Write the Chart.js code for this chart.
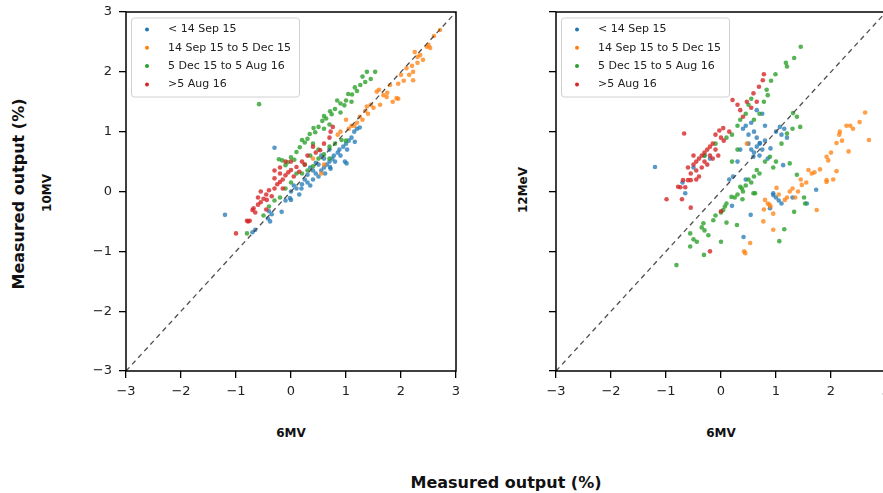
<!DOCTYPE html>
<html>
<head>
<meta charset="utf-8">
<script src="https://cdn.jsdelivr.net/npm/chart.js@4.4.1/dist/chart.umd.min.js"></script>
<style>
  html, body { margin: 0; padding: 0; background: #fff; width: 883px; height: 493px; overflow: hidden; }
  .wrap { position: absolute; top: 0; }
  .lbl { position: absolute; font-family: "DejaVu Sans"; font-weight: bold; color: #111; white-space: nowrap; }
  .rot { transform: translate(-50%, -50%) rotate(-90deg); }
  .hor { transform: translate(-50%, -50%); }
</style>
</head>
<body>
<div class="wrap" style="left:80px"><canvas id="left" width="380" height="400"></canvas></div>
<div class="wrap" style="left:546px"><canvas id="right" width="344" height="400"></canvas></div>

<div class="lbl rot" style="left:18px;top:194px;font-size:16px">Measured output (%)</div>
<div class="lbl rot" style="left:47px;top:193px;font-size:12px">10MV</div>
<div class="lbl rot" style="left:523px;top:190px;font-size:12px">12MeV</div>
<div class="lbl hor" style="left:291px;top:433px;font-size:12px">6MV</div>
<div class="lbl hor" style="left:721px;top:433px;font-size:12px">6MV</div>
<div class="lbl hor" style="left:506px;top:482px;font-size:16px">Measured output (%)</div>

<script>
const groups = ["< 14 Sep 15", "14 Sep 15 to 5 Dec 15", "5 Dec 15 to 5 Aug 16", ">5 Aug 16"];
const groupColors = ["#1f77b4", "#ff7f0e", "#2ca02c", "#d62728"];
const pointColors = ["rgba(31,119,180,0.75)", "rgba(255,127,14,0.75)", "rgba(44,160,44,0.8)", "rgba(214,39,40,0.8)"];
const tickValues = [-3, -2, -1, 0, 1, 2, 3];
const diagonal = [[-3, -3], [3, 3]];

// 6MV (x) vs 10MV (y)
const mv10Before = [[-0.7,-0.68],[-0.65,-0.64],[-1.2,-0.39],[-0.42,-0.45],[-0.38,-0.5],[-0.35,-0.38],[-0.4,-0.33],
  [-0.17,-0.34],[-0.3,0.73],[-0.02,-0.11],[0.0,-0.14],[0.05,0.1],[0.15,-0.05],[0.19,0.05],[0.35,0.1],[0.3,0.15],
  [0.4,0.2],[0.45,0.3],[0.5,0.25],[0.55,0.35],[0.6,0.4],[0.62,0.3],[0.65,0.45],[0.7,0.5],[0.72,0.38],[0.75,0.55],
  [0.78,0.6],[0.8,0.5],[0.85,0.65],[0.88,0.7],[0.9,0.6],[0.95,0.75],[1.0,0.8],[1.02,0.7],[1.05,0.85],[1.1,0.9],
  [1.15,1.0],[1.2,1.05],[1.25,1.07],[0.6,0.55],[0.5,0.45],[0.4,0.35],[0.3,0.28],[0.2,0.12],[1.01,0.47],[0.98,0.5],
  [1.16,0.83],[0.7,0.7],[0.55,0.6],[0.35,0.4],[0.1,0.05],[0.0,0.0],[-0.1,-0.15],[0.25,0.2],[0.45,0.48],[0.71,0.41]];
const mv10Mid = [[2.71,2.7],[2.6,2.6],[2.53,2.4],[2.47,2.42],[2.35,2.28],[2.4,2.2],[2.3,2.15],[2.2,2.1],[2.1,2.06],
  [2.22,2.0],[2.22,1.86],[2.15,1.95],[2.05,1.85],[1.95,1.8],[1.92,1.56],[1.8,1.78],[1.75,1.65],[1.68,1.61],[1.95,1.55],
  [1.62,1.45],[1.85,1.5],[1.56,1.67],[1.74,1.58],[1.5,1.4],[1.45,1.45],[1.38,1.42],[1.4,1.3],[1.35,1.35],[1.3,1.2],
  [1.25,1.25],[1.2,1.15],[1.6,1.7],[2.0,1.95],[2.5,2.45],[1.15,1.1],[1.05,1.05],[1.0,1.2],[0.9,1.0],[0.85,0.95],
  [0.6,0.45],[0.55,0.3],[0.4,0.55],[1.1,1.1],[2.3,2.25],[2.25,2.33]];
const mv10Late = [[1.38,2.0],[1.53,2.0],[1.45,1.88],[1.35,1.83],[1.3,1.92],[1.26,1.78],[1.2,1.68],[1.16,1.74],[1.11,1.62],
  [1.04,1.63],[1.0,1.52],[0.97,1.44],[0.9,1.47],[0.84,1.52],[0.8,1.38],[0.74,1.29],[0.71,1.34],[0.64,1.22],[0.6,1.26],
  [0.57,1.18],[0.5,1.08],[0.44,0.99],[0.41,1.06],[0.34,0.96],[0.3,0.88],[0.25,0.82],[0.2,0.86],[0.16,0.74],[0.1,0.66],
  [0.06,0.53],[0.0,0.57],[-0.06,0.49],[-0.1,0.44],[-0.16,0.52],[-0.22,0.54],[-0.58,1.46],[0.9,1.32],[1.1,1.5],[0.6,1.05],
  [0.7,1.12],[0.4,0.8],[0.3,0.35],[0.4,0.42],[0.5,0.55],[0.6,0.62],[0.7,0.75],[0.8,0.8],[0.92,0.86],[0.5,0.7],[0.35,0.6],
  [0.25,0.45],[0.1,0.3],[0.0,0.15],[-0.1,0.05],[-0.2,-0.1],[-0.3,-0.15],[-0.4,-0.25],[-0.8,-0.7],[-0.5,-0.4],
  [0.2,0.3],[1.0,0.85],[0.7,0.55]];
const mv10After = [[-1.0,-0.7],[-0.8,-0.49],[-0.75,-0.49],[-0.78,-0.5],[-0.7,-0.31],[-0.65,-0.35],[-0.68,-0.28],
  [-0.6,-0.22],[-0.55,-0.18],[-0.5,-0.12],[-0.44,-0.14],[-0.45,-0.05],[-0.4,0.02],[-0.35,-0.08],[-0.3,0.05],[-0.25,0.12],
  [-0.2,0.16],[-0.15,0.2],[-0.1,0.27],[-0.05,0.32],[0.0,0.36],[0.05,0.25],[0.1,0.41],[0.15,0.33],[-0.2,0.3],[-0.3,0.22],
  [-0.15,0.05],[0.2,0.5],[0.3,0.6],[0.53,0.69],[0.45,0.65],[0.6,0.8],[0.72,1.0],[0.76,1.08],[0.7,0.9],[0.4,0.75],
  [-0.55,0.0],[-0.6,-0.1],[-0.45,-0.3],[-0.3,0.35],[-0.1,0.5],[0.0,0.5],[0.25,0.45],[-0.2,0.4]];

// 6MV (x) vs 12MeV (y)
const mev12Before = [[-1.2,0.41],[-0.65,-0.03],[-0.7,0.15],[-0.5,0.4],[-0.3,0.6],[-0.2,0.55],[0.2,-0.24],[0.41,-0.76],
  [0.54,-0.39],[0.22,0.25],[0.3,0.5],[0.35,0.7],[0.4,1.05],[0.45,1.1],[0.5,0.95],[0.55,1.15],[0.6,1.0],[0.65,0.9],
  [0.5,0.8],[0.55,0.7],[0.6,0.65],[0.65,0.75],[0.7,0.8],[0.75,0.7],[0.8,0.85],[0.7,0.6],[0.59,0.58],[0.71,0.81],
  [0.65,1.36],[0.75,1.3],[1.07,1.08],[1.0,1.0],[1.1,0.95],[1.15,1.05],[1.2,0.9],[1.13,0.44],[0.85,0.55],[0.9,0.72],
  [0.95,-0.06],[1.0,-0.1],[1.05,-0.15],[1.1,-0.2],[0.95,-0.03],[0.89,-0.28],[1.56,-0.2],[1.73,0.03],[1.3,-0.1],
  [0.45,0.2],[0.15,0.2],[0.8,1.1]];
const mev12Mid = [[2.62,1.32],[2.69,0.86],[2.52,1.16],[2.28,1.1],[2.35,1.1],[2.4,1.05],[2.16,1.0],[2.1,0.81],[2.2,0.85],
  [2.32,0.67],[1.92,0.58],[1.95,0.52],[1.8,0.37],[2.1,0.34],[1.59,0.36],[1.65,0.3],[1.7,0.32],[1.92,0.19],[2.04,0.2],
  [1.47,0.11],[1.55,0.15],[1.74,-0.31],[1.25,0.0],[1.3,0.05],[1.16,-0.14],[1.2,-0.1],[1.01,0.06],[0.8,-0.14],
  [0.85,-0.2],[0.9,-0.25],[0.95,-0.37],[0.77,-0.5],[0.95,-0.64],[0.53,-0.86],[0.42,-1.0],[0.44,-1.03],[0.78,-0.3],
  [1.05,-0.05],[1.4,0.0],[1.45,0.2],[2.0,0.65],[2.15,0.95],[1.92,0.16],[1.35,-0.1],[0.88,-0.22],[0.47,0.8]];
const mev12Late = [[1.45,2.42],[1.33,2.23],[1.18,2.15],[1.2,2.09],[0.99,1.96],[0.91,1.85],[0.83,1.7],[0.85,1.61],
  [0.78,1.5],[0.55,1.55],[0.5,1.45],[0.45,1.3],[0.35,1.2],[0.3,1.1],[0.2,0.95],[0.1,0.9],[-0.1,0.8],[-0.3,0.6],
  [0.7,1.3],[0.6,1.2],[1.2,0.97],[1.3,1.05],[1.44,1.08],[1.31,1.31],[1.38,1.25],[1.1,0.8],[0.89,0.58],[0.8,0.5],
  [0.65,0.36],[0.7,0.3],[0.6,0.25],[0.55,0.15],[0.5,0.2],[0.45,0.1],[0.4,0.0],[0.35,0.08],[0.3,-0.05],[0.25,-0.1],
  [0.19,-0.09],[0.39,-0.13],[0.59,-0.03],[0.62,-0.03],[0.38,0.05],[0.1,-0.2],[0.07,-0.25],[0.04,-0.31],[0.0,-0.35],
  [-0.1,-0.4],[-0.14,-0.48],[0.1,-0.52],[0.29,-0.56],[-0.23,-0.73],[-0.32,-0.53],[-0.35,-0.6],[-0.44,-0.84],
  [-0.56,-0.92],[-0.56,-0.7],[-0.31,-1.06],[-0.81,-1.23],[0.0,-0.84],[-0.5,-0.8],[-0.3,-0.65],[1.06,-0.83],
  [1.15,-0.63],[1.33,-0.34],[1.53,-0.2],[1.51,-0.1],[1.38,0.28],[1.25,0.47],[0.95,0.4],[1.0,0.5],[0.2,0.5],[0.3,0.7]];
const mev12After = [[0.78,1.96],[0.76,1.86],[0.69,1.75],[0.59,1.64],[0.47,1.5],[0.21,1.53],[0.35,1.36],[0.3,1.45],
  [0.4,1.25],[-0.67,0.97],[0.04,1.06],[-0.03,1.02],[0.0,0.9],[-0.1,0.95],[-0.15,0.8],[-0.2,0.75],[-0.25,0.7],
  [-0.3,0.65],[-0.35,0.6],[-0.4,0.55],[-0.45,0.5],[-0.5,0.45],[-0.3,0.5],[-0.2,0.6],[-0.1,0.7],[-0.35,0.4],
  [-0.45,0.35],[-0.55,0.3],[-0.6,0.4],[-0.4,0.25],[-0.25,0.45],[-0.15,0.55],[-0.69,0.19],[-0.6,0.19],[-0.55,0.19],
  [-0.78,0.08],[-0.74,0.07],[-0.65,0.07],[-0.99,-0.13],[-0.71,-0.13],[-0.55,-0.27],[-0.2,-1.0],[0.0,-0.33],
  [0.05,0.85],[0.15,1.0],[0.55,1.4],[0.65,1.5],[-0.05,0.6],[-0.5,0.6],[-0.45,0.2]];

const fmt = v => (v < 0 ? "\u2212" + Math.abs(v) : String(v));
const tickFont = {family: "DejaVu Sans", size: 13};

// box round the plot area, like matplotlib spines
const frame = {
    id: "frame",
    afterDatasetsDraw(chart) {
        const a = chart.chartArea, ctx = chart.ctx;
        ctx.save();
        ctx.strokeStyle = "#000";
        ctx.lineWidth = 1.5;
        ctx.strokeRect(a.left, a.top, a.right - a.left, a.bottom - a.top);
        ctx.restore();
    }
};

// legend drawn inside the upper left corner
const boxLegend = {
    id: "boxLegend",
    afterDraw(chart) {
        const ctx = chart.ctx, a = chart.chartArea;
        const x0 = a.left + 5.5, y0 = a.top + 6, w = 168, h = 79;
        ctx.save();
        ctx.fillStyle = "rgba(255,255,255,0.9)";
        ctx.strokeStyle = "#d0d0d0";
        ctx.lineWidth = 1;
        ctx.beginPath();
        ctx.roundRect(x0, y0, w, h, 3);
        ctx.fill();
        ctx.stroke();
        ctx.font = '11px "DejaVu Sans"';
        ctx.textBaseline = "middle";
        groups.forEach((g, i) => {
            const yy = y0 + 11.5 + i * 18.3;
            ctx.fillStyle = groupColors[i];
            ctx.beginPath();
            ctx.arc(x0 + 15.5, yy, 2, 0, Math.PI * 2);
            ctx.fill();
            ctx.fillStyle = "#222";
            ctx.fillText(g, x0 + 36.5, yy);
        });
        ctx.restore();
    }
};

const axis = (showLabels, size, isX) => ({
    type: "linear",
    min: -3,
    max: 3,
    afterBuildTicks: s => { s.ticks = tickValues.map(v => ({value: v})); },
    ticks: {
        callback: v => (showLabels ? fmt(v) : ""),
        font: tickFont,
        color: "#222",
        padding: isX ? 6 : 7,
        maxRotation: 0,
        autoSkip: false
    },
    grid: {drawOnChartArea: false, color: "#000", tickLength: 7, lineWidth: 1.3},
    border: {display: false},
    afterFit: s => {
        if (isX) s.height = size; else s.width = size;
        s.paddingLeft = 0; s.paddingRight = 0; s.paddingTop = 0; s.paddingBottom = 0;
    }
});

const makeChart = (id, sets, showYLabels, yWidth) => new Chart(document.getElementById(id), {
    type: "scatter",
    data: {
        datasets: [
            {type: "line", data: diagonal, borderColor: "rgba(70,70,70,0.95)", borderWidth: 1.3,
                borderDash: [5, 4], pointRadius: 0, order: 0},
            ...sets.map((s, i) => ({
                label: groups[i], data: s, backgroundColor: pointColors[i],
                borderWidth: 0, pointRadius: 2.3, order: 4 - i
            }))
        ]
    },
    options: {
        responsive: false,
        animation: false,
        layout: {padding: {top: 12, right: 4, left: 0, bottom: 0}},
        plugins: {legend: {display: false}, tooltip: {enabled: false}},
        scales: {
            x: axis(true, 29, true),
            y: axis(showYLabels, yWidth, false)
        }
    },
    plugins: [frame, boxLegend]
});

makeChart("left", [mv10Before, mv10Mid, mv10Late, mv10After], true, 46);
makeChart("right", [mev12Before, mev12Mid, mev12Late, mev12After], false, 10);
</script>
</body>
</html>
